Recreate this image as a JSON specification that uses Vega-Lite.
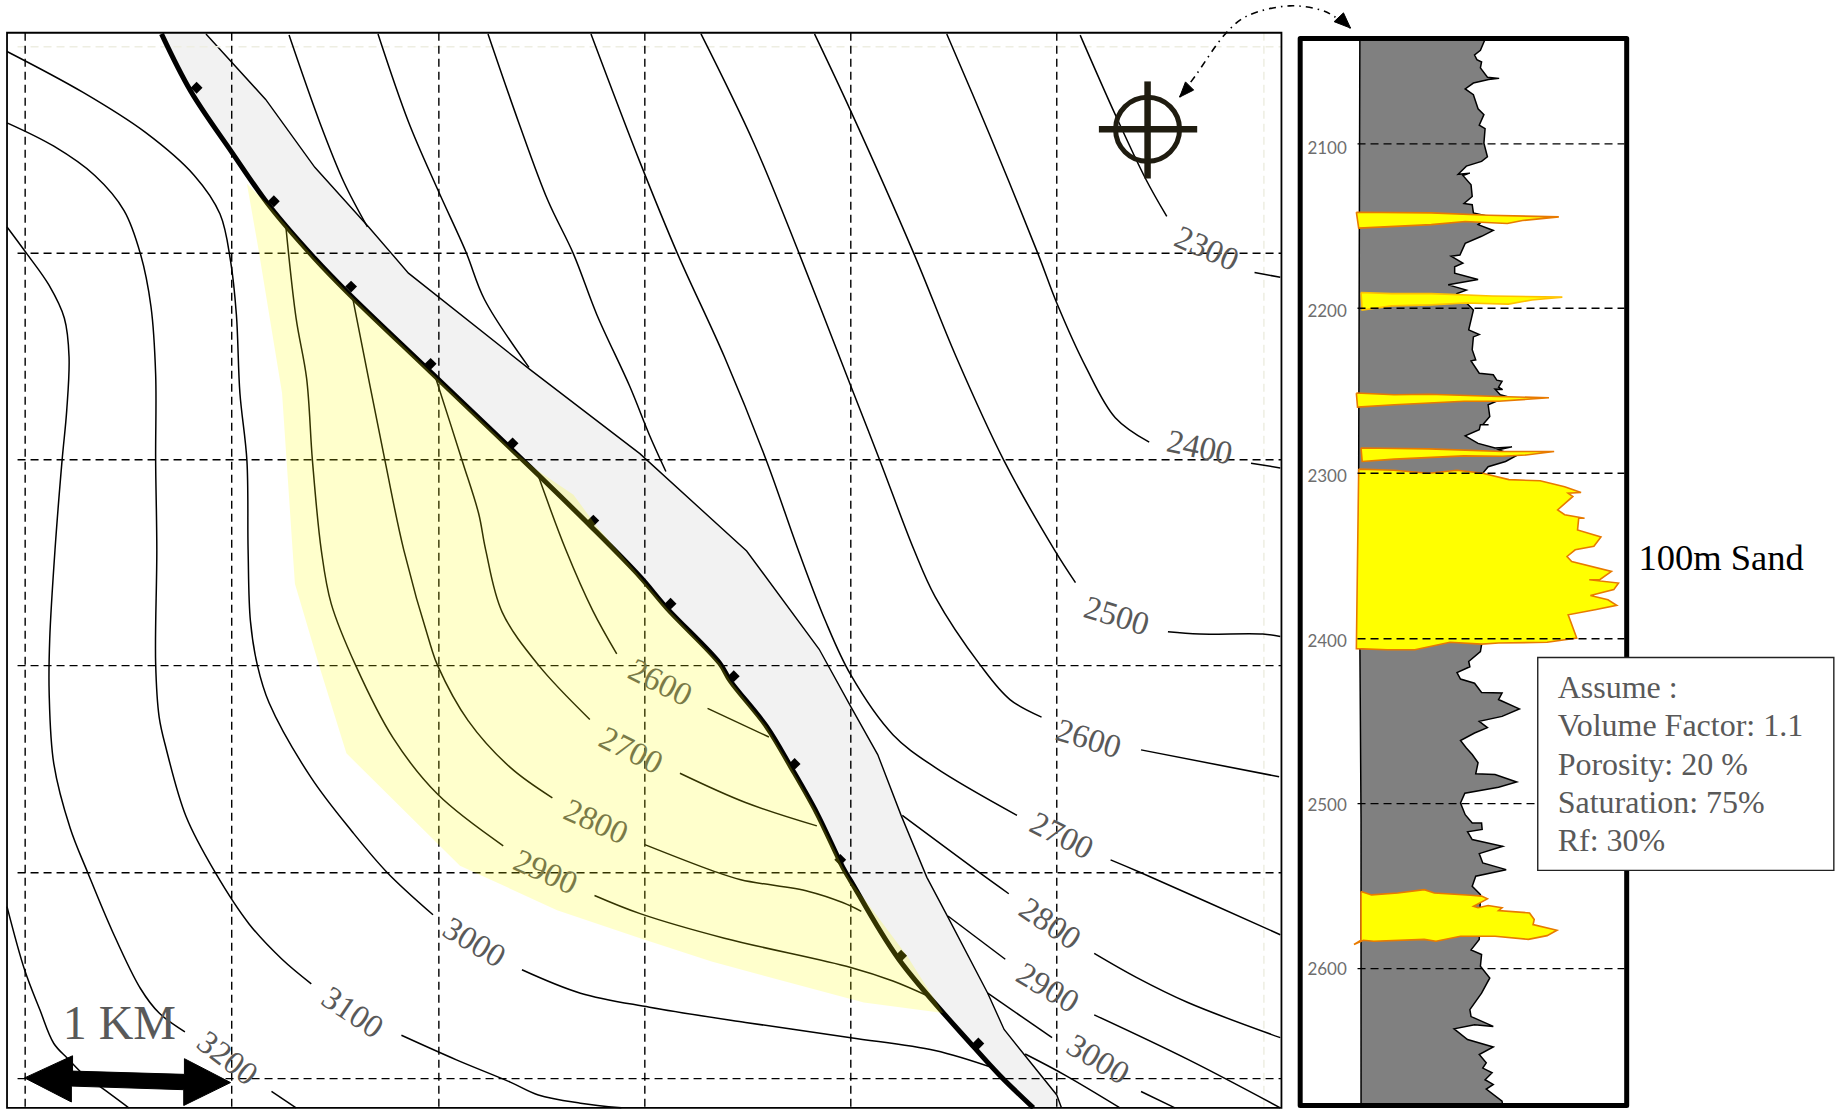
{"$schema":"https://vega.github.io/schema/vega-lite/v6.json","width":1835,"height":1109,"autosize":{"type":"none"},"padding":0,"background":"white","config":{"view":{"stroke":null}},
"datasets":{
"contours":[
{"id":"c3000","x":6,"y":44},{"id":"c3000","x":71,"y":79},{"id":"c3000","x":124,"y":113},{"id":"c3000","x":166,"y":150},{"id":"c3000","x":188,"y":183},{"id":"c3000","x":197,"y":223},{"id":"c3000","x":202,"y":269},{"id":"c3000","x":205,"y":336},{"id":"c3000","x":211,"y":394},{"id":"c3000","x":212,"y":470},{"id":"c3000","x":214,"y":531},{"id":"c3000","x":220,"y":569},{"id":"c3000","x":230,"y":601},{"id":"c3000","x":266,"y":665},{"id":"c3000","x":301,"y":711},{"id":"c3000","x":331,"y":746},{"id":"c3000","x":370,"y":782},
{"id":"c3000b","x":446,"y":829},{"id":"c3000b","x":496,"y":849},{"id":"c3000b","x":555,"y":861},{"id":"c3000b","x":637,"y":874},{"id":"c3000b","x":727,"y":887},{"id":"c3000b","x":799,"y":898},{"id":"c3000b","x":849,"y":913},
{"id":"c3100","x":6,"y":105},{"id":"c3100","x":46,"y":125},{"id":"c3100","x":81,"y":150},{"id":"c3100","x":106,"y":180},{"id":"c3100","x":120,"y":217},{"id":"c3100","x":129,"y":262},{"id":"c3100","x":133,"y":320},{"id":"c3100","x":133,"y":394},{"id":"c3100","x":134,"y":470},{"id":"c3100","x":133,"y":567},{"id":"c3100","x":136,"y":613},{"id":"c3100","x":142,"y":640},{"id":"c3100","x":159,"y":698},{"id":"c3100","x":184,"y":746},{"id":"c3100","x":213,"y":790},{"id":"c3100","x":241,"y":820},{"id":"c3100","x":266,"y":841},
{"id":"c3100b","x":343,"y":885},{"id":"c3100b","x":390,"y":906},{"id":"c3100b","x":436,"y":925},{"id":"c3100b","x":460,"y":936},{"id":"c3100b","x":496,"y":943},{"id":"c3100b","x":531,"y":947},
{"id":"c3200","x":6,"y":194},{"id":"c3200","x":23,"y":217},{"id":"c3200","x":42,"y":244},{"id":"c3200","x":55,"y":272},{"id":"c3200","x":59,"y":305},{"id":"c3200","x":57,"y":351},{"id":"c3200","x":53,"y":394},{"id":"c3200","x":47,"y":470},{"id":"c3200","x":42.5,"y":546},{"id":"c3200","x":42,"y":592},{"id":"c3200","x":46,"y":653},{"id":"c3200","x":60,"y":708},{"id":"c3200","x":75,"y":746},{"id":"c3200","x":96,"y":796},{"id":"c3200","x":120,"y":845},{"id":"c3200","x":136,"y":866},{"id":"c3200","x":158,"y":882},
{"id":"c3200b","x":232,"y":933},{"id":"c3200b","x":253,"y":947},
{"id":"c3300","x":6,"y":775},{"id":"c3300","x":21,"y":829},{"id":"c3300","x":34,"y":863},{"id":"c3300","x":46,"y":892},{"id":"c3300","x":58,"y":905},{"id":"c3300","x":74,"y":921},{"id":"c3300","x":87,"y":930},{"id":"c3300","x":110,"y":947},
{"id":"e","x":247,"y":30},{"id":"e","x":273,"y":104},{"id":"e","x":294,"y":156},{"id":"e","x":314,"y":194},
{"id":"f","x":323,"y":29},{"id":"f","x":349,"y":104},{"id":"f","x":374,"y":162},{"id":"f","x":398,"y":215},{"id":"f","x":414,"y":256},{"id":"f","x":452,"y":314},
{"id":"g","x":417,"y":29},{"id":"g","x":443,"y":104},{"id":"g","x":468,"y":171},{"id":"g","x":490,"y":217},{"id":"g","x":510,"y":269},{"id":"g","x":538,"y":330},{"id":"g","x":555,"y":372},{"id":"g","x":569,"y":403},
{"id":"h","x":505,"y":29},{"id":"h","x":547,"y":139},{"id":"h","x":579,"y":217},{"id":"h","x":619,"y":305},{"id":"h","x":655,"y":394},{"id":"h","x":682,"y":470},{"id":"h","x":705,"y":530},{"id":"h","x":727,"y":577},{"id":"h","x":763,"y":628},{"id":"h","x":799,"y":656},{"id":"h","x":869,"y":697},
{"id":"h2","x":949,"y":735},{"id":"h2","x":975,"y":746},{"id":"h2","x":1094,"y":799},
{"id":"i","x":599,"y":29},{"id":"i","x":644,"y":122},{"id":"i","x":683,"y":217},{"id":"i","x":727,"y":330},{"id":"i","x":752,"y":394},{"id":"i","x":781,"y":470},{"id":"i","x":799,"y":510},{"id":"i","x":838,"y":569},{"id":"i","x":863,"y":598},{"id":"i","x":890,"y":613},
{"id":"i2","x":975,"y":641},{"id":"i2","x":1093,"y":664},
{"id":"j","x":696,"y":29},{"id":"j","x":727,"y":95},{"id":"j","x":781,"y":217},{"id":"j","x":817,"y":305},{"id":"j","x":858,"y":394},{"id":"j","x":901,"y":470},{"id":"j","x":919,"y":498},
{"id":"j2","x":998,"y":540},{"id":"j2","x":1025,"y":542},{"id":"j2","x":1079,"y":542},{"id":"j2","x":1094,"y":544},
{"id":"k","x":809,"y":29},{"id":"k","x":846,"y":116},{"id":"k","x":887,"y":217},{"id":"k","x":903,"y":259},{"id":"k","x":928,"y":314},{"id":"k","x":953,"y":357},{"id":"k","x":982,"y":378},
{"id":"k2","x":1069,"y":396},{"id":"k2","x":1094,"y":400},
{"id":"l","x":923,"y":30},{"id":"l","x":953,"y":98},{"id":"l","x":979,"y":153},{"id":"l","x":997,"y":185},
{"id":"l2","x":1072,"y":233},{"id":"l2","x":1094,"y":237},
{"id":"m","x":771,"y":697},{"id":"m","x":837,"y":746},{"id":"m","x":862,"y":764},
{"id":"m2","x":935,"y":815},{"id":"m2","x":971,"y":835.5},{"id":"m2","x":1015,"y":857},{"id":"m2","x":1094,"y":887},
{"id":"n","x":810,"y":783},{"id":"n","x":859,"y":820},
{"id":"n2","x":935,"y":867.5},{"id":"n2","x":1015,"y":905.6},{"id":"n2","x":1094,"y":947},
{"id":"o","x":844,"y":849},{"id":"o","x":899,"y":887},
{"id":"o2","x":975,"y":933},{"id":"o2","x":1004,"y":947},
{"id":"p","x":876,"y":901},{"id":"p","x":910,"y":919},{"id":"p","x":957,"y":947},
{"id":"y1","x":244,"y":191},{"id":"y1","x":253,"y":272},{"id":"y1","x":262,"y":323.5},{"id":"y1","x":267,"y":394},{"id":"y1","x":274.5,"y":470},{"id":"y1","x":283,"y":516},{"id":"y1","x":304,"y":569},{"id":"y1","x":336,"y":631},{"id":"y1","x":374,"y":679},{"id":"y1","x":430,"y":723},
{"id":"y1b","x":508,"y":765.5},{"id":"y1b","x":547,"y":781},{"id":"y1b","x":619,"y":802},{"id":"y1b","x":727,"y":827},{"id":"y1b","x":763,"y":838.6},{"id":"y1b","x":792,"y":851},
{"id":"y2","x":301,"y":253},{"id":"y2","x":329,"y":394},{"id":"y2","x":345,"y":470},{"id":"y2","x":368,"y":552},{"id":"y2","x":374,"y":569},{"id":"y2","x":400,"y":616},{"id":"y2","x":436,"y":656},{"id":"y2","x":472,"y":682},
{"id":"y2b","x":551,"y":722},{"id":"y2b","x":608,"y":744},{"id":"y2b","x":633,"y":752},{"id":"y2b","x":691,"y":762},{"id":"y2b","x":720,"y":771.5},{"id":"y2b","x":736,"y":779},
{"id":"y3","x":371,"y":319},{"id":"y3","x":395,"y":394},{"id":"y3","x":409,"y":439},{"id":"y3","x":415,"y":470},{"id":"y3","x":429,"y":523},{"id":"y3","x":460.5,"y":569},{"id":"y3","x":504,"y":615},
{"id":"y3b","x":581,"y":661},{"id":"y3b","x":637,"y":686},{"id":"y3b","x":698,"y":706},
{"id":"y4","x":459,"y":404},{"id":"y4","x":483.5,"y":470},{"id":"y4","x":506.5,"y":522},{"id":"y4","x":527,"y":559},
{"id":"y4b","x":604.6,"y":605.5},{"id":"y4b","x":657,"y":630}
],
"fault":[{"x":138,"y":29},{"x":163,"y":78},{"x":198,"y":130},{"x":231,"y":177},{"x":269,"y":221},{"x":297,"y":250},{"x":368,"y":318},{"x":436,"y":383},{"x":459,"y":405},{"x":505,"y":450},{"x":547,"y":493},{"x":570,"y":520},{"x":615,"y":567},{"x":624,"y":582},{"x":655,"y":621},{"x":676,"y":656},{"x":698,"y":695},{"x":720,"y":741},{"x":727,"y":753},{"x":768,"y":820},{"x":833,"y":896},{"x":855,"y":920},{"x":883,"y":947}],
"faultTicks":[{"x":168,"y":75},{"x":234,"y":172},{"x":300,"y":245},{"x":368,"y":311},{"x":438,"y":379},{"x":507,"y":445},{"x":573,"y":516},{"x":627,"y":578},{"x":679,"y":653},{"x":718,"y":735},{"x":770,"y":817},{"x":836,"y":892}],
"greyEdge":[{"x":176,"y":29},{"x":227,"y":85},{"x":269,"y":143},{"x":315,"y":194},{"x":349,"y":233.5},{"x":453,"y":316},{"x":547,"y":388},{"x":638,"y":471},{"x":700,"y":555},{"x":727,"y":604},{"x":750,"y":645},{"x":770,"y":697},{"x":792,"y":750},{"x":810,"y":784},{"x":844,"y":849},{"x":858,"y":880},{"x":876,"y":902.5},{"x":903,"y":936},{"x":907,"y":947}],
"greyPoly":[{"x":176,"y":29},{"x":227,"y":85},{"x":269,"y":143},{"x":315,"y":194},{"x":349,"y":233.5},{"x":453,"y":316},{"x":547,"y":388},{"x":638,"y":471},{"x":700,"y":555},{"x":727,"y":604},{"x":750,"y":645},{"x":770,"y":697},{"x":792,"y":750},{"x":810,"y":784},{"x":844,"y":849},{"x":858,"y":880},{"x":876,"y":902.5},{"x":903,"y":936},{"x":907,"y":947},{"x":883,"y":947},{"x":855,"y":920},{"x":833,"y":896},{"x":768,"y":820},{"x":727,"y":753},{"x":720,"y":741},{"x":698,"y":695},{"x":676,"y":656},{"x":655,"y":621},{"x":624,"y":582},{"x":615,"y":567},{"x":570,"y":520},{"x":547,"y":493},{"x":505,"y":450},{"x":459,"y":405},{"x":436,"y":383},{"x":368,"y":318},{"x":297,"y":250},{"x":269,"y":221},{"x":231,"y":177},{"x":198,"y":130},{"x":163,"y":78},{"x":138,"y":29},{"x":176,"y":29}],
"yellowPoly":[{"x":211,"y":157},{"x":231,"y":177},{"x":269,"y":221},{"x":297,"y":250},{"x":368,"y":318},{"x":436,"y":383},{"x":459,"y":402},{"x":490,"y":423},{"x":510,"y":450},{"x":547,"y":493},{"x":570,"y":520},{"x":615,"y":567},{"x":624,"y":582},{"x":655,"y":621},{"x":676,"y":656},{"x":698,"y":695},{"x":720,"y":741},{"x":727,"y":753},{"x":775,"y":817},{"x":806,"y":866},{"x":738,"y":857},{"x":608,"y":822},{"x":547,"y":802},{"x":476,"y":778},{"x":393,"y":740},{"x":296,"y":644},{"x":273,"y":570},{"x":252,"y":499},{"x":250,"y":470},{"x":241,"y":336},{"x":221,"y":214},{"x":211,"y":157}],
"grid":[{"x":21.5,"y":28,"x2":21.5,"y2":947},{"x":198,"y":28,"x2":198,"y2":947},{"x":375,"y":28,"x2":375,"y2":947},{"x":551,"y":28,"x2":551,"y2":947},{"x":727,"y":28,"x2":727,"y2":947},{"x":903,"y":28,"x2":903,"y2":947},{"x":15,"y":216.5,"x2":1095,"y2":216.5},{"x":15,"y":393,"x2":1095,"y2":393},{"x":15,"y":569,"x2":1095,"y2":569},{"x":15,"y":746,"x2":1095,"y2":746},{"x":15,"y":922,"x2":1095,"y2":922}],
"gridLight":[{"x":15,"y":40,"x2":1095,"y2":40},{"x":1080,"y":28,"x2":1080,"y2":947}],
"logDepth":[{"x":1160,"y":123,"x2":1388,"y2":123,"t":"2100","ty":127},{"x":1160,"y":263.5,"x2":1388,"y2":263.5,"t":"2200","ty":267},{"x":1160,"y":404.5,"x2":1388,"y2":404.5,"t":"2300","ty":408},{"x":1160,"y":546,"x2":1388,"y2":546,"t":"2400","ty":549},{"x":1160,"y":687,"x2":1388,"y2":687,"t":"2500","ty":689},{"x":1160,"y":828,"x2":1388,"y2":828,"t":"2600","ty":829}],
"gr":[{"x":1162,"y":32},{"x":1269,"y":33.6},{"x":1265,"y":43},{"x":1260,"y":47},{"x":1262,"y":51},{"x":1266,"y":53},{"x":1265,"y":58},{"x":1271,"y":66},{"x":1281,"y":67},{"x":1272,"y":68},{"x":1259,"y":71},{"x":1252,"y":76},{"x":1259,"y":81},{"x":1263,"y":93},{"x":1268,"y":98},{"x":1264,"y":107},{"x":1269,"y":110},{"x":1268,"y":122.5},{"x":1271,"y":134},{"x":1266,"y":138},{"x":1253,"y":142},{"x":1246,"y":149},{"x":1256,"y":148},{"x":1250,"y":150},{"x":1257,"y":158},{"x":1258,"y":168},{"x":1251,"y":174},{"x":1258,"y":175},{"x":1259,"y":182},{"x":1272,"y":185},{"x":1263,"y":192},{"x":1276,"y":197},{"x":1266,"y":202},{"x":1252,"y":208},{"x":1247.5,"y":218},{"x":1240,"y":219},{"x":1250,"y":225},{"x":1243,"y":228},{"x":1243,"y":233.5},{"x":1263,"y":239},{"x":1237.5,"y":243.5},{"x":1253,"y":248},{"x":1245,"y":251},{"x":1255,"y":261},{"x":1259,"y":265},{"x":1255,"y":282},{"x":1264,"y":286},{"x":1259,"y":288},{"x":1258,"y":299},{"x":1261,"y":307.6},{"x":1257,"y":308.5},{"x":1264,"y":319},{"x":1276,"y":320.4},{"x":1279,"y":325},{"x":1283.5,"y":326},{"x":1280.5,"y":331},{"x":1284,"y":333},{"x":1277.5,"y":332.7},{"x":1282,"y":337.5},{"x":1288,"y":339},{"x":1271.6,"y":346},{"x":1273,"y":356},{"x":1267,"y":363},{"x":1272,"y":363},{"x":1265,"y":363},{"x":1264,"y":367.4},{"x":1252,"y":372.6},{"x":1263,"y":379},{"x":1277.5,"y":383},{"x":1292,"y":382},{"x":1280.5,"y":384.5},{"x":1295,"y":390},{"x":1286.5,"y":394.5},{"x":1271.6,"y":399},{"x":1267,"y":404.5},{"x":1266,"y":551},{"x":1265,"y":557},{"x":1255,"y":565.4},{"x":1256,"y":570},{"x":1245,"y":575},{"x":1248,"y":580.5},{"x":1260,"y":584},{"x":1266,"y":592},{"x":1283.5,"y":592.4},{"x":1280.5,"y":598},{"x":1298.3,"y":606},{"x":1283.5,"y":612.4},{"x":1264,"y":616.6},{"x":1271,"y":622},{"x":1260,"y":626.6},{"x":1248,"y":633},{"x":1253,"y":639.4},{"x":1258,"y":645},{"x":1263,"y":652},{"x":1261,"y":661.4},{"x":1277.5,"y":662},{"x":1296,"y":668.5},{"x":1280.5,"y":673},{"x":1251.7,"y":678},{"x":1248,"y":686.4},{"x":1252,"y":696.4},{"x":1258,"y":703.5},{"x":1266,"y":703.5},{"x":1266.5,"y":709},{"x":1254,"y":711},{"x":1258,"y":717.7},{"x":1284,"y":723.4},{"x":1264,"y":729.7},{"x":1267,"y":737.7},{"x":1287,"y":743.4},{"x":1261,"y":749},{"x":1258,"y":757.6},{"x":1265,"y":764.7},{"x":1264,"y":803},{"x":1257,"y":812},{"x":1266,"y":816},{"x":1265,"y":826},{"x":1273,"y":836},{"x":1266,"y":849},{"x":1256,"y":863},{"x":1257,"y":869},{"x":1276,"y":877.4},{"x":1260,"y":876},{"x":1242.5,"y":879.5},{"x":1254,"y":888.6},{"x":1276,"y":895},{"x":1264,"y":901.4},{"x":1270,"y":908.5},{"x":1267,"y":913},{"x":1275,"y":917},{"x":1269,"y":923},{"x":1276,"y":927},{"x":1270,"y":931},{"x":1283.5,"y":941.3},{"x":1284,"y":945},{"x":1163,"y":945},{"x":1163,"y":700},{"x":1161,"y":400},{"x":1162,"y":32}],
"sandOrange":[
{"id":"s1","x":1159,"y":181.4},{"id":"s1","x":1223,"y":182},{"id":"s1","x":1272,"y":184},{"id":"s1","x":1332,"y":185.4},{"id":"s1","x":1301,"y":188.5},{"id":"s1","x":1288,"y":191},{"id":"s1","x":1252,"y":189.4},{"id":"s1","x":1223,"y":192},{"id":"s1","x":1161,"y":195},{"id":"s1","x":1159,"y":181.4},
{"id":"s3","x":1159,"y":336},{"id":"s3","x":1191.4,"y":337.5},{"id":"s3","x":1221,"y":337},{"id":"s3","x":1280.5,"y":339},{"id":"s3","x":1323.6,"y":340},{"id":"s3","x":1280.5,"y":343},{"id":"s3","x":1251,"y":343},{"id":"s3","x":1191.4,"y":346},{"id":"s3","x":1160,"y":348},{"id":"s3","x":1159,"y":336},
{"id":"s4","x":1163,"y":383},{"id":"s4","x":1221,"y":383.7},{"id":"s4","x":1283.5,"y":386},{"id":"s4","x":1328,"y":386},{"id":"s4","x":1304,"y":389},{"id":"s4","x":1283.5,"y":390},{"id":"s4","x":1251,"y":389.7},{"id":"s4","x":1191.4,"y":392.5},{"id":"s4","x":1164,"y":394.5},{"id":"s4","x":1163,"y":383},
{"id":"s5","x":1161,"y":401},{"id":"s5","x":1191,"y":402},{"id":"s5","x":1221,"y":404.5},{"id":"s5","x":1245,"y":402},{"id":"s5","x":1267,"y":404.5},{"id":"s5","x":1289.4,"y":410},{"id":"s5","x":1316,"y":411},{"id":"s5","x":1337,"y":416},{"id":"s5","x":1351,"y":421},{"id":"s5","x":1340,"y":421.6},{"id":"s5","x":1344,"y":424.4},{"id":"s5","x":1331,"y":435.8},{"id":"s5","x":1337,"y":440},{"id":"s5","x":1354,"y":443},{"id":"s5","x":1349,"y":443},{"id":"s5","x":1348,"y":453},{"id":"s5","x":1368,"y":459},{"id":"s5","x":1362,"y":467},{"id":"s5","x":1346,"y":470},{"id":"s5","x":1339,"y":475.7},{"id":"s5","x":1343,"y":480},{"id":"s5","x":1377,"y":488.5},{"id":"s5","x":1367,"y":495.6},{"id":"s5","x":1358,"y":495.6},{"id":"s5","x":1383,"y":498.4},{"id":"s5","x":1379,"y":504},{"id":"s5","x":1359,"y":509},{"id":"s5","x":1374,"y":512.7},{"id":"s5","x":1381.5,"y":517.5},{"id":"s5","x":1364,"y":521},{"id":"s5","x":1340,"y":525.5},{"id":"s5","x":1347.3,"y":545.4},{"id":"s5","x":1322,"y":549},{"id":"s5","x":1280.5,"y":549.7},{"id":"s5","x":1266,"y":550.6},{"id":"s5","x":1239,"y":549},{"id":"s5","x":1209,"y":555.4},{"id":"s5","x":1185.5,"y":555.4},{"id":"s5","x":1159,"y":554.5},{"id":"s5","x":1161,"y":401},
{"id":"s6","x":1163,"y":762},{"id":"s6","x":1172,"y":765},{"id":"s6","x":1194.4,"y":763.3},{"id":"s6","x":1217,"y":760.5},{"id":"s6","x":1225.6,"y":763.3},{"id":"s6","x":1256.7,"y":765.3},{"id":"s6","x":1266,"y":766},{"id":"s6","x":1271,"y":768.4},{"id":"s6","x":1259,"y":774.7},{"id":"s6","x":1263,"y":776},{"id":"s6","x":1271.6,"y":774},{"id":"s6","x":1283.5,"y":776},{"id":"s6","x":1280.5,"y":778.4},{"id":"s6","x":1307,"y":780.4},{"id":"s6","x":1311,"y":786},{"id":"s6","x":1310,"y":790.4},{"id":"s6","x":1330.4,"y":795.2},{"id":"s6","x":1322,"y":799.8},{"id":"s6","x":1306,"y":803},{"id":"s6","x":1277.5,"y":800.3},{"id":"s6","x":1248,"y":800.3},{"id":"s6","x":1227,"y":804.6},{"id":"s6","x":1217,"y":803},{"id":"s6","x":1174,"y":804.6},{"id":"s6","x":1165,"y":803.7},{"id":"s6","x":1157,"y":807.4},{"id":"s6","x":1163,"y":803.7},{"id":"s6","x":1163,"y":762}
],
"sandGold":[{"x":1163,"y":250},{"x":1189,"y":251},{"x":1223,"y":251},{"x":1275,"y":253},{"x":1335,"y":254},{"x":1309,"y":256.4},{"x":1289,"y":260},{"x":1252,"y":259},{"x":1223,"y":260.6},{"x":1189,"y":261.5},{"x":1164,"y":265},{"x":1163,"y":250}],
"kmArrow":[{"x":21,"y":921.4},{"x":62,"y":902.5},{"x":62,"y":915.6},{"x":157.6,"y":918.4},{"x":157.6,"y":905},{"x":197,"y":925.4},{"x":157,"y":945},{"x":157,"y":931.5},{"x":61,"y":928.4},{"x":61,"y":942},{"x":21,"y":921.4}],
"callout":[{"x":1008,"y":83},{"x":1022,"y":64},{"x":1047,"y":29},{"x":1065,"y":14},{"x":1102,"y":5},{"x":1130,"y":9},{"x":1140,"y":14},{"x":1154,"y":24}],
"heads":[{"id":"a","x":1008,"y":83},{"id":"a","x":1013,"y":70},{"id":"a","x":1020,"y":77},{"id":"a","x":1008,"y":83},{"id":"b","x":1154,"y":24},{"id":"b","x":1148,"y":11},{"id":"b","x":1140,"y":18.5},{"id":"b","x":1154,"y":24}],
"cross":[{"x":939,"y":110.5,"x2":1023,"y2":110.5},{"x":980.6,"y":69.6,"x2":980.6,"y2":152.6}]
},
"encoding":{"x":{"field":"x","type":"quantitative","axis":null,"scale":{"domain":[0,1568],"nice":false,"zero":false}},"y":{"field":"y","type":"quantitative","axis":null,"scale":{"domain":[948,0],"nice":false,"zero":false}}},
"layer":[
{"data":{"name":"greyPoly"},"mark":{"type":"line","order":null,"fill":"#f2f2f2","stroke":null}},
{"data":{"name":"greyEdge"},"mark":{"type":"line","order":null,"color":"#000000","strokeWidth":1.4}},
{"data":{"name":"gridLight"},"mark":{"type":"rule","color":"#eeeee2","strokeWidth":1.5,"strokeDash":[8,5]},"encoding":{"x2":{"field":"x2"},"y2":{"field":"y2"}}},
{"data":{"name":"grid"},"mark":{"type":"rule","color":"#000000","strokeWidth":1.4,"strokeDash":[8,5]},"encoding":{"x2":{"field":"x2"},"y2":{"field":"y2"}}},
{"data":{"name":"contours"},"mark":{"type":"line","order":null,"color":"#000000","strokeWidth":1.5,"interpolate":"catmull-rom"},"encoding":{"detail":{"field":"id"}}},
{"data":{"name":"fault"},"mark":{"type":"line","order":null,"color":"#000000","strokeWidth":5,"interpolate":"catmull-rom"}},
{"data":{"name":"faultTicks"},"mark":{"type":"point","shape":"square","filled":true,"color":"#000000","opacity":1,"size":70,"angle":45}},
{"data":{"values":[{"x":1025,"y":383,"t":"2400"}]},"mark":{"type":"text","font":"Liberation Serif","fontSize":33,"color":"#595959","angle":12},"encoding":{"text":{"field":"t"}}},
{"data":{"values":[{"x":954,"y":527,"t":"2500"},{"x":930,"y":632,"t":"2600"}]},"mark":{"type":"text","font":"Liberation Serif","fontSize":33,"color":"#595959","angle":17},"encoding":{"text":{"field":"t"}}},
{"data":{"values":[{"x":1031,"y":213,"t":"2300"},{"x":466,"y":746,"t":"2900"},{"x":509,"y":703,"t":"2800"}]},"mark":{"type":"text","font":"Liberation Serif","fontSize":33,"color":"#595959","angle":24},"encoding":{"text":{"field":"t"}}},
{"data":{"values":[{"x":539,"y":642,"t":"2700"},{"x":564,"y":584,"t":"2600"},{"x":907,"y":715,"t":"2700"}]},"mark":{"type":"text","font":"Liberation Serif","fontSize":33,"color":"#595959","angle":27},"encoding":{"text":{"field":"t"}}},
{"data":{"values":[{"x":895,"y":845,"t":"2900"},{"x":938,"y":906,"t":"3000"},{"x":405,"y":806,"t":"3000"}]},"mark":{"type":"text","font":"Liberation Serif","fontSize":33,"color":"#595959","angle":31},"encoding":{"text":{"field":"t"}}},
{"data":{"values":[{"x":897,"y":790,"t":"2800"},{"x":301,"y":866,"t":"3100"}]},"mark":{"type":"text","font":"Liberation Serif","fontSize":33,"color":"#595959","angle":34},"encoding":{"text":{"field":"t"}}},
{"data":{"values":[{"x":194,"y":905,"t":"3200"}]},"mark":{"type":"text","font":"Liberation Serif","fontSize":33,"color":"#595959","angle":38},"encoding":{"text":{"field":"t"}}},
{"data":{"name":"yellowPoly"},"mark":{"type":"line","order":null,"fill":"#ffff00","fillOpacity":0.2,"stroke":null}},
{"data":{"values":[{"x":6,"y":28,"x2":1095,"y2":947}]},"mark":{"type":"rect","fill":null,"stroke":"#000000","strokeWidth":1.8},"encoding":{"x2":{"field":"x2"},"y2":{"field":"y2"}}},
{"data":{"values":[{"x":102,"y":876,"t":"1 KM"}]},"mark":{"type":"text","font":"Liberation Serif","fontSize":48,"color":"#595959"},"encoding":{"text":{"field":"t"}}},
{"data":{"name":"kmArrow"},"mark":{"type":"line","order":null,"fill":"#000000","stroke":"#000000","strokeWidth":1}},
{"data":{"name":"cross"},"mark":{"type":"rule","color":"#1f1c10","strokeWidth":6.5},"encoding":{"x2":{"field":"x2"},"y2":{"field":"y2"}}},
{"data":{"values":[{"x":980.6,"y":110.5}]},"mark":{"type":"point","shape":"circle","filled":false,"color":"#1f1c10","opacity":1,"size":4100,"strokeWidth":5}},
{"data":{"name":"callout"},"mark":{"type":"line","order":null,"color":"#000000","strokeWidth":1.6,"strokeDash":[7,5,1.5,5],"interpolate":"catmull-rom"}},
{"data":{"name":"heads"},"mark":{"type":"line","order":null,"fill":"#000000","stroke":"#000000","strokeWidth":1},"encoding":{"detail":{"field":"id"}}},
{"data":{"name":"gr"},"mark":{"type":"line","order":null,"fill":"#808080","stroke":"#000000","strokeWidth":1.5}},
{"data":{"name":"sandOrange"},"mark":{"type":"line","order":null,"fill":"#ffff00","stroke":"#e87a00","strokeWidth":1.6},"encoding":{"detail":{"field":"id"}}},
{"data":{"name":"sandGold"},"mark":{"type":"line","order":null,"fill":"#ffff00","stroke":"#ffc000","strokeWidth":1.6}},
{"data":{"name":"logDepth"},"mark":{"type":"rule","color":"#000000","strokeWidth":1.4,"strokeDash":[8,5]},"encoding":{"x2":{"field":"x2"},"y2":{"field":"y2"}}},
{"data":{"name":"logDepth"},"mark":{"type":"text","font":"Lato","fontSize":17,"color":"#6e6e6e"},"encoding":{"x":{"datum":1134},"y":{"field":"ty","type":"quantitative"},"text":{"field":"t"}}},
{"data":{"values":[{"x":1111,"y":33,"x2":1390,"y2":945}]},"mark":{"type":"rect","fill":null,"stroke":"#000000","strokeWidth":5,"strokeJoin":"round"},"encoding":{"x2":{"field":"x2"},"y2":{"field":"y2"}}},
{"data":{"values":[{"x":1400,"y":478,"t":"100m Sand"}]},"mark":{"type":"text","font":"Liberation Serif","fontSize":36.5,"color":"#000000","align":"left"},"encoding":{"text":{"field":"t"}}},
{"data":{"values":[{"x":1314,"y":562,"x2":1567,"y2":744}]},"mark":{"type":"rect","fill":"#ffffff","stroke":"#222222","strokeWidth":1.4},"encoding":{"x2":{"field":"x2"},"y2":{"field":"y2"}}},
{"data":{"values":[{"x":1331,"y":588,"t":"Assume :"},{"x":1331,"y":621,"t":"Volume Factor: 1.1"},{"x":1331,"y":654,"t":"Porosity: 20 %"},{"x":1331,"y":686,"t":"Saturation: 75%"},{"x":1331,"y":719,"t":"Rf: 30%"}]},"mark":{"type":"text","font":"Liberation Serif","fontSize":32,"color":"#595959","align":"left"},"encoding":{"text":{"field":"t"}}}
]}
